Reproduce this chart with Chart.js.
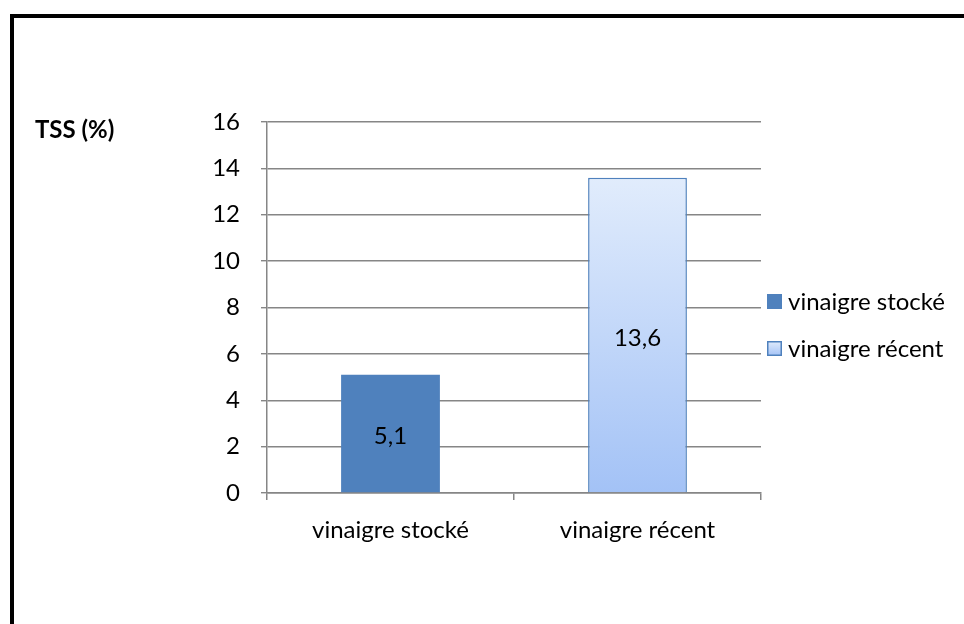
<!DOCTYPE html>
<html>
<head>
<meta charset="utf-8">
<script src="https://cdn.jsdelivr.net/npm/chart.js@4/dist/chart.umd.min.js"></script>
<style>
  html, body { margin: 0; padding: 0; background: #fff; }
  #wrap { position: relative; width: 964px; height: 624px; overflow: hidden; }
  #frame {
    position: absolute; left: 10px; top: 14px; width: 1000px; height: 700px;
    border-top: 4px solid #000; border-left: 4px solid #000;
  }
  canvas { position: absolute; left: 0; top: 0; }
</style>
</head>
<body>
<div id="wrap">
  <div id="frame"></div>
  <canvas id="tssChart" width="964" height="624"></canvas>
</div>
<script>
// TSS des deux vinaigres
const categories = ['vinaigre stocké', 'vinaigre récent'];
const tssValues = [5.1, 13.6];
const yTicks = [0, 2, 4, 6, 8, 10, 12, 14, 16];

const FONT = 'Lato, "Open Sans", sans-serif';
const BLUE = '#4f81bd';

function recentGradient(chart) {
  const area = chart.chartArea;
  if (!area) return '#bcd3f8';
  const y = chart.scales.y;
  const g = chart.ctx.createLinearGradient(0, y.getPixelForValue(tssValues[1]), 0, area.bottom);
  g.addColorStop(0, '#e1ecfc');
  g.addColorStop(1, '#a3c2f6');
  return g;
}

// étiquettes de valeur au milieu des barres, titre de l'axe et légende
const decorPlugin = {
  id: 'decor',
  afterDatasetsDraw(chart) {
    const ctx = chart.ctx;
    const meta = chart.getDatasetMeta(0);
    ctx.save();
    ctx.fillStyle = '#000';
    ctx.font = '24px ' + FONT;
    ctx.textAlign = 'center';
    ctx.textBaseline = 'middle';
    meta.data.forEach(function (bar, i) {
      const label = tssValues[i].toString().replace('.', ',');
      ctx.fillText(label, bar.x, (bar.y + bar.base) / 2 + 3);
    });

    // titre de l'axe
    ctx.font = 'bold 24px ' + FONT;
    ctx.textAlign = 'left';
    ctx.fillText('TSS (%)', 35, 130);

    // légende
    ctx.font = '24px ' + FONT;
    const lx = 767;
    const rows = [301, 348];
    rows.forEach(function (ly, i) {
      if (i === 0) {
        ctx.fillStyle = BLUE;
        ctx.fillRect(lx, ly - 7, 15, 15);
      } else {
        const g = ctx.createLinearGradient(0, ly - 7, 0, ly + 8);
        g.addColorStop(0, '#e1ecfc');
        g.addColorStop(1, '#a3c2f6');
        ctx.fillStyle = g;
        ctx.fillRect(lx, ly - 7, 15, 15);
        ctx.strokeStyle = BLUE;
        ctx.lineWidth = 1.5;
        ctx.strokeRect(lx + 0.75, ly - 6.25, 13.5, 13.5);
      }
      ctx.fillStyle = '#000';
      ctx.fillText(categories[i], lx + 21, ly + 1);
    });
    ctx.restore();
  },
};

const tssChart = new Chart(document.getElementById('tssChart'), {
  type: 'bar',
  data: {
    labels: categories,
    datasets: [
      {
        data: tssValues,
        backgroundColor: function (context) {
          return context.dataIndex === 0 ? BLUE : recentGradient(context.chart);
        },
        borderColor: [BLUE, BLUE],
        borderWidth: [0, 1.5],
        barPercentage: 0.4,
        categoryPercentage: 1,
      },
    ],
  },
  options: {
    responsive: false,
    animation: false,
    layout: {
      padding: { left: 207, right: 203, top: 122, bottom: 71 },
    },
    plugins: {
      legend: { display: false },
      tooltip: { enabled: false },
    },
    scales: {
      x: {
        grid: {
          offset: true,
          drawOnChartArea: false,
          drawTicks: true,
          tickLength: 7,
          color: '#868686',
          lineWidth: 1.5,
        },
        border: { color: '#868686', width: 1.5 },
        ticks: {
          color: '#000',
          padding: 16,
          font: { family: FONT, size: 24 },
        },
        afterFit: function (scale) {
          scale.height = 60;
        },
      },
      y: {
        min: 0,
        max: 16,
        afterBuildTicks: function (scale) {
          scale.ticks = yTicks.map(function (v) { return { value: v }; });
        },
        grid: {
          color: '#868686',
          lineWidth: 1.4,
          tickLength: 6,
        },
        border: { color: '#868686', width: 1.5 },
        ticks: {
          color: '#000',
          padding: 21,
          font: { family: FONT, size: 24 },
        },
        afterFit: function (scale) {
          scale.width = 60;
        },
      },
    },
  },
  plugins: [decorPlugin],
});
</script>
</body>
</html>
